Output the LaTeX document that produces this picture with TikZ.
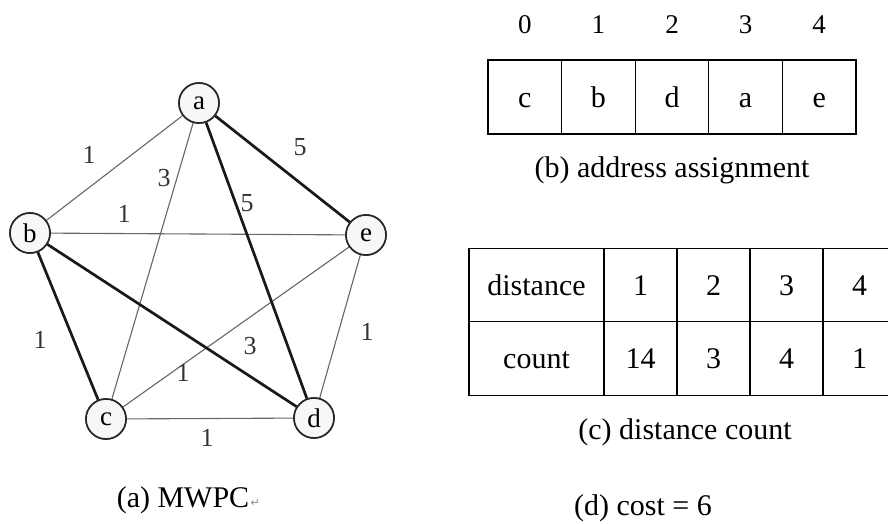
\documentclass[tikz,border=0pt]{standalone}
\usepackage{fontspec}
\setmainfont{Liberation Serif}
\newfontfamily\symfont{DejaVu Sans}
\begin{document}
\begin{tikzpicture}[x=1pt,y=-1pt,
  vtx/.style={circle,draw=black!85,line width=1.6pt,fill=black!3,minimum size=40pt,inner sep=0pt,font=\fontsize{27}{27}\selectfont},
  lightedge/.style={draw=black!60,line width=1.1pt},
  heavyedge/.style={draw=black!90,line width=2.7pt},
  wlab/.style={font=\fontsize{26}{26}\selectfont,text=black!80,inner sep=0pt},
  cellbox/.style={draw,line width=1.2pt,minimum height=74pt,inner sep=0pt,text height=20pt,text depth=0pt,font=\fontsize{30}{30}\selectfont},
  plain/.style={font=\fontsize{30}{30}\selectfont,inner sep=0pt},
  idxlab/.style={font=\fontsize{27}{27}\selectfont,inner sep=0pt}]
\useasboundingbox (0,0) rectangle (888,524);
\clip (0,0) rectangle (888,524);
% graph
\node[vtx] (a) at (199,103) {a};
\node[vtx] (b) at (30,233) {b};
\node[vtx] (e) at (366,235) {e};
\node[vtx] (c) at (106,419) {c};
\node[vtx] (d) at (314,418) {d};
\draw[lightedge] (a) -- (b);
\draw[lightedge] (a) -- (c);
\draw[lightedge] (b) -- (e);
\draw[lightedge] (c) -- (e);
\draw[lightedge] (e) -- (d);
\draw[lightedge] (c) -- (d);
\draw[heavyedge] (a) -- (e);
\draw[heavyedge] (a) -- (d);
\draw[heavyedge] (b) -- (d);
\draw[heavyedge] (b) -- (c);
\node[vtx] at (a) {a};
\node[vtx] at (b) {b};
\node[vtx] at (e) {e};
\node[vtx] at (c) {c};
\node[vtx] at (d) {d};
\node[wlab] (wab) at (89,155) {1};
\node[wlab] (wac) at (164,178) {3};
\node[wlab] (wad) at (247,203) {5};
\node[wlab] (wae) at (300,147) {5};
\node[wlab] (wbe) at (124,214) {1};
\node[wlab] (wbc) at (40,340) {1};
\node[wlab] (wbd) at (250,346) {3};
\node[wlab] (wce) at (183,373) {1};
\node[wlab] (wed) at (367,332) {1};
\node[wlab] (wcd) at (207,438) {1};
\node[plain,anchor=center] (capa) at (183,500) {(a) MWPC};
\node[inner sep=0pt,anchor=west,text=black!45,font=\symfont\fontsize{11}{11}\selectfont] (ret) at ([xshift=1pt,yshift=-3pt]capa.east) {↵};
% table b
\foreach \i/\t [count=\k from 0] in {0/c,1/b,2/d,3/a,4/e} {
  \node[cellbox,minimum width=73.6pt] (b\i) at ({488+73.6*(\k+0.5)},97) {\t};
  \node[idxlab] (idx\i) at ({488+73.6*(\k+0.5)},25) {\i};
}
\node[plain] (capb) at (672,170) {(b) address assignment};
% table c
\node[cellbox,minimum width=135pt,minimum height=73.5pt] (dh) at (536.5,285) {distance};
\node[cellbox,minimum width=135pt,minimum height=73.5pt] (ch) at (536.5,358.5) {count};
\foreach \x/\dv/\cv [count=\k] in {640.5/1/14,713.5/2/3,786.5/3/4,859.5/4/1} {
  \node[cellbox,minimum width=73pt,minimum height=73.5pt] (d\k) at (\x,285) {\dv};
  \node[cellbox,minimum width=73pt,minimum height=73.5pt] (c\k) at (\x,358.5) {\cv};
}
\node[plain] (capc) at (685,432) {(c) distance count};
\node[plain] (capd) at (643,508) {(d) cost = 6};
\end{tikzpicture}
\end{document}
